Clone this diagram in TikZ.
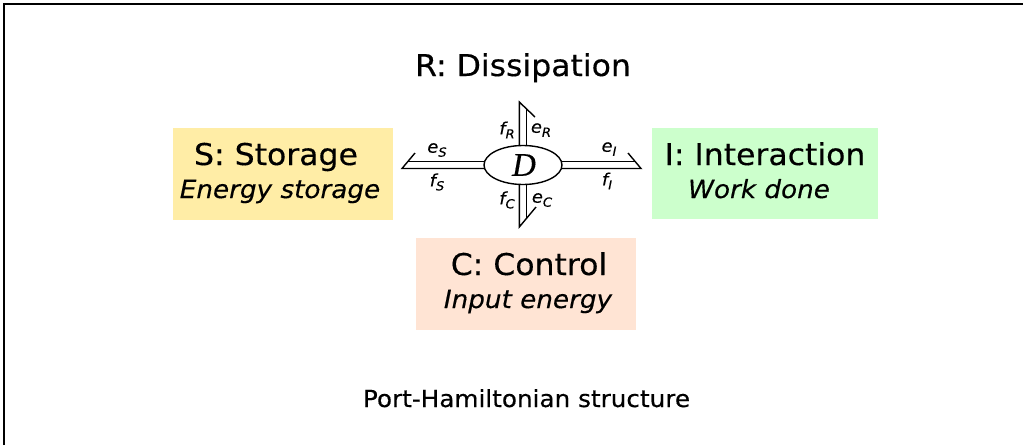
\documentclass[tikz,border=0pt]{standalone}
\usepackage{fontspec}
\setmainfont{DejaVu Sans}[FakeStretch=1.05, FakeBold=0.35]
\newfontfamily\dserif{Liberation Serif}[FakeBold=0.3]
\usetikzlibrary{shapes.geometric,calc}
\newcommand\pvar[2]{#1\raisebox{-4pt}{\fontsize{12.5}{12.5}\selectfont #2}}
\tikzset{
  title/.style={font=\fontsize{30}{34}\selectfont, anchor=base, inner sep=0},
  subtitle/.style={font=\fontsize{25}{28}\selectfont\itshape, anchor=base, inner sep=0},
  portlbl/.style={font=\fontsize{17}{20}\selectfont\itshape, inner sep=0},
  area/.style={draw=none, inner sep=0},
  bond/.style={line width=1.4pt, line join=miter},
}
\definecolor{storecol}{HTML}{FFEDA6}
\definecolor{interactcol}{HTML}{CCFFCC}
\definecolor{controlcol}{HTML}{FFE4D4}
\begin{document}
\begin{tikzpicture}[x=1pt,y=-1pt]
\useasboundingbox (0,0) rectangle (1023,445);
% frame
\draw[line width=1.8pt] (4,445) -- (4,4) -- (1023,4);

% coloured areas
\node[area, fill=storecol, minimum width=220pt, minimum height=92pt] (S) at (283,174) {};
\node[area, fill=interactcol, minimum width=226pt, minimum height=91pt] (I) at (765,173.5) {};
\node[area, fill=controlcol, minimum width=220pt, minimum height=92pt] (C) at (526,284) {};

\node[title] (St) at (276,165) {S: Storage};
\node[subtitle] (Ss) at (280,198) {Energy storage};
\node[title] (It) at (765,165) {I: Interaction};
\node[subtitle] (Is) at (759,198) {Work done};
\node[title] (Ct) at (529,275) {C: Control};
\node[subtitle] (Cs) at (528,308) {Input energy};
\node[title] (Rt) at (523,76) {R: Dissipation};
\node[font=\fontsize{23.5}{26}\selectfont, anchor=base, inner sep=0] (cap) at (526.5,407) {Port-Hamiltonian structure};

% junction
\node[draw, ellipse, line width=1.4pt, fill=white, minimum width=78pt, minimum height=39pt, inner sep=0] (D) at (523,165) {};
\node[font=\fontsize{33}{33}\selectfont\dserif\itshape, inner sep=0] (Dl) at ($(D.center)+(1,0)$) {D};

% bond free ends
\coordinate (sTip) at (402,168.5);
\coordinate (sHook) at (415,153);
\coordinate (sTop) at (408,161.5);
\coordinate (iTip) at (641,168.5);
\coordinate (iHook) at (628,153);
\coordinate (iTop) at (635,161.5);
\coordinate (rTip) at (519.3,102);
\coordinate (rHook) at (535,117);
\coordinate (rRight) at (526.7,109);
\coordinate (cTip) at (519.3,227);
\coordinate (cHook) at (536,207);
\coordinate (cRight) at (526.7,218);

% bonds with half arrows
\draw[bond] ($(D.west)+(1,3.5)$) -- (sTip) -- (sHook);
\draw[bond] ($(D.west)+(1,-3.5)$) -- (sTop);
\draw[bond] ($(D.east)+(-1,3.5)$) -- (iTip) -- (iHook);
\draw[bond] ($(D.east)+(-1,-3.5)$) -- (iTop);
\draw[bond] ($(D.north)+(-3.7,1)$) -- (rTip) -- (rHook);
\draw[bond] ($(D.north)+(3.7,1)$) -- (rRight);
\draw[bond] ($(D.south)+(-3.7,-1)$) -- (cTip) -- (cHook);
\draw[bond] ($(D.south)+(3.7,-1)$) -- (cRight);

% effort and flow labels
\node[portlbl] (eS) at (437,150) {\pvar{e}{S}};
\node[portlbl] (fS) at (437,182) {\pvar{f}{S}};
\node[portlbl] (eI) at (609,149) {\pvar{e}{I}};
\node[portlbl] (fI) at (607,181) {\pvar{f}{I}};
\node[portlbl] (fR) at (507,130) {\pvar{f}{R}};
\node[portlbl] (eR) at (541,130) {\pvar{e}{R}};
\node[portlbl] (fC) at (507,200) {\pvar{f}{C}};
\node[portlbl] (eC) at (542,200) {\pvar{e}{C}};
\end{tikzpicture}
\end{document}
